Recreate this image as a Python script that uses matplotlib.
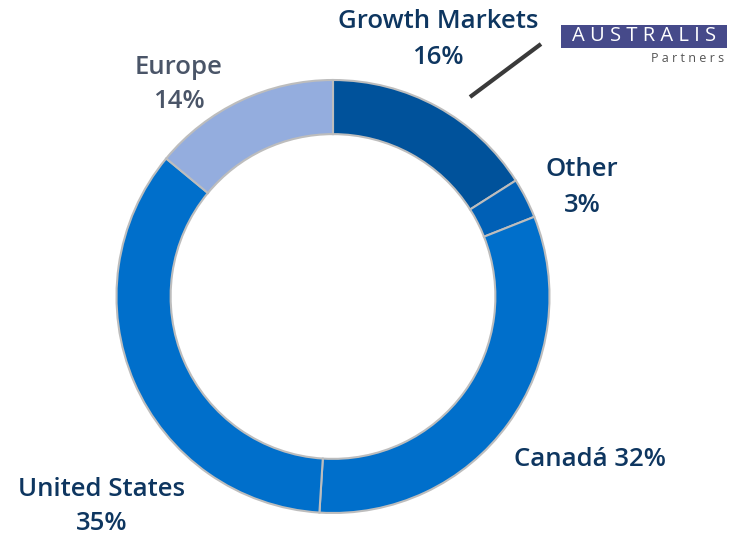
import matplotlib.pyplot as plt
from matplotlib.patches import Rectangle

regions = ['Growth Markets', 'Other', 'Canadá', 'United States', 'Europe']
shares = [16, 3, 32, 35, 14]
colors = ['#00529B', '#0060B6', '#006FCB', '#006FCB', '#94ADDE']

plt.rcParams['font.family'] = ['Open Sans', 'DejaVu Sans']

W, H = 737, 535
fig = plt.figure(figsize=(W / 100, H / 100), dpi=100)
ax = fig.add_axes([0, 0, 1, 1])

cx, cy, r = 333, H - 296.5, 216.5
ax.pie(shares, colors=colors, startangle=90, counterclock=False,
       center=(cx, cy), radius=r, frame=True,
       wedgeprops=dict(width=r * 0.25, edgecolor='#BDBDBD', linewidth=1.5))
ax.set_xlim(0, W)
ax.set_ylim(0, H)
ax.set_aspect('equal')
ax.axis('off')

navy = '#0E3660'
fs = 18.5
kw = dict(ha='center', va='center', fontsize=fs, fontweight='semibold')
ax.text(438, H - 21, 'Growth Markets', color=navy, **kw)
ax.text(438, H - 57, '16%', color=navy, **kw)
ax.text(179, H - 67, 'Europe', color='#4A5568', **kw)
ax.text(179, H - 102, '14%', color='#4A5568', **kw)
ax.text(582, H - 170, 'Other', color=navy, **kw)
ax.text(582, H - 206, '3%', color=navy, **kw)
ax.text(590, H - 459, 'Canadá 32%', color=navy, **kw)
ax.text(102, H - 489, 'United States', color=navy, **kw)
ax.text(102, H - 523, '35%', color=navy, **kw)

# leader line for Growth Markets
ax.plot([470, 541], [H - 97, H - 44], color='#3A3A3A', linewidth=3, solid_capstyle='butt')

# logo
ax.add_patch(Rectangle((561, H - 48), 166, 23, facecolor='#464A8A', edgecolor='none'))
ax.text(644, H - 36, 'A U S T R A L I S', ha='center', va='center', fontsize=14.5,
        color='white')
ax.text(724, H - 58, 'P a r t n e r s', ha='right', va='center', fontsize=9, color='#555555')

fig.savefig('out.png', dpi=100)
